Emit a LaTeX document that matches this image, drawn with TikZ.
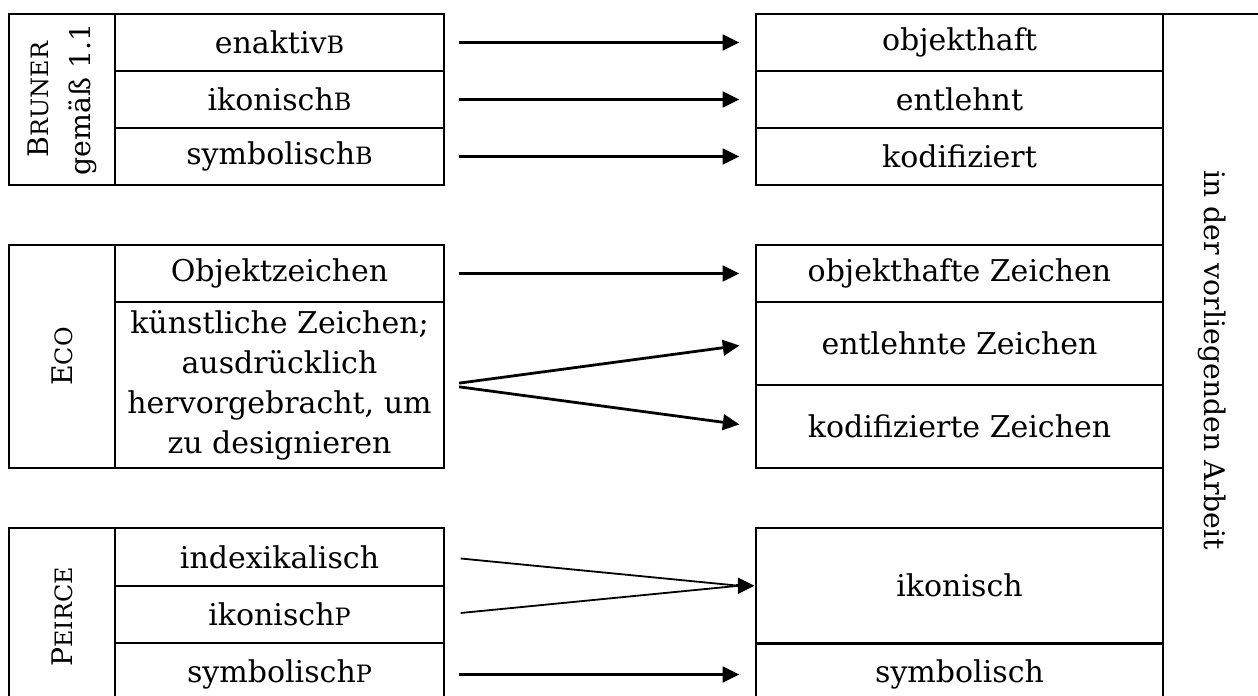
\documentclass[tikz,border=0pt]{standalone}
\usepackage{fontspec}
\setmainfont{DejaVu Serif}
\usetikzlibrary{arrows.meta,positioning}
\newcommand{\pxu}{0.36pt}
\newcommand{\kap}[1]{{\fontsize{8.6}{10}\selectfont\MakeUppercase{#1}}}
\tikzset{
  cell/.style 2 args={draw,line width=1pt,inner sep=0pt,align=center,
    minimum width=#1*\pxu,minimum height=#2*\pxu,font=\fontsize{10.8}{14.4}\selectfont},
  sidelabel/.style={font=\fontsize{10.2}{15}\selectfont},
  arrow/.style={-{Triangle[length=6pt,width=5.6pt]},line width=1pt,shorten <=5pt,shorten >=5.5pt},
  thinline/.style={line width=0.65pt,shorten <=5.5pt}
}

\begin{document}
\begin{tikzpicture}[x=0.36pt,y=-0.36pt]
  \useasboundingbox (0,0) rectangle (1258,696);
  \clip (0,0) rectangle (1258,696);

  % Bruner
  \node[cell={171}{106},sidelabel,rotate=90] (bruner) at (62,99.5) {B\kap{runer}\\gemäß 1.1};
  \node[cell={329}{57}] (enaktiv) at (279.5,42.5) {enaktiv\kap{b}};
  \node[cell={329}{57}] (ikonB) at (279.5,99.5) {ikonisch\kap{b}};
  \node[cell={329}{57}] (symbB) at (279.5,156.5) {symbolisch\kap{b}};
  \node[cell={407}{57}] (objekthaft) at (959.5,42.5) {objekthaft};
  \node[cell={407}{57}] (entlehnt) at (959.5,99.5) {entlehnt};
  \node[cell={407}{57}] (kodifiziert) at (959.5,156.5) {kodifiziert};

  % Eco
  \node[cell={223}{106},sidelabel,rotate=90] (eco) at (62,356.5) {E\kap{co}};
  \node[cell={329}{57}] (objz) at (279.5,273.5) {Objektzeichen};
  \node[cell={329}{166}] (kuenstl) at (279.5,385) {künstliche Zeichen;\\ausdrücklich\\hervorgebracht, um\\zu designieren};
  \node[cell={407}{57}] (objzR) at (959.5,273.5) {objekthafte Zeichen};
  \node[cell={407}{83}] (entlZ) at (959.5,343.5) {entlehnte Zeichen};
  \node[cell={407}{83}] (kodZ) at (959.5,426.5) {kodifizierte Zeichen};

  % Peirce
  \node[cell={178}{106},sidelabel,rotate=90] (peirce) at (62,617) {P\kap{eirce}};
  \node[cell={329}{58}] (index) at (279.5,557) {indexikalisch};
  \node[cell={329}{57}] (ikonP) at (279.5,614.5) {ikonisch\kap{p}};
  \node[cell={329}{63}] (symbP) at (279.5,674.5) {symbolisch\kap{p}};
  \node[cell={407}{115.5}] (ikonisch) at (959.5,585.75) {ikonisch};
  \node[cell={407}{63}] (symbolisch) at (959.5,674.5) {symbolisch};

  % right column
  \node[cell={692}{99},sidelabel,rotate=-90] (arbeit) at (1212.5,360) {in der vorliegenden Arbeit};

  \draw[arrow] (enaktiv) -- (objekthaft);
  \draw[arrow] (ikonB) -- (entlehnt);
  \draw[arrow] (symbB) -- (kodifiziert);
  \draw[arrow] (objz) -- (objzR);
  \draw[arrow] (kuenstl.east) -- (entlZ.west);
  \draw[arrow] (kuenstl.east) -- (kodZ.west);
  \coordinate (meet) at ([xshift=-15.7*\pxu]ikonisch.west);
  \draw[thinline] (index.east) -- (meet);
  \draw[thinline] (ikonP.east) -- (meet);
  \draw[arrow,shorten <=0pt,shorten >=0pt] ([xshift=-1pt]meet) -- (ikonisch.west);
  \draw[arrow] (symbP) -- (symbolisch);
\end{tikzpicture}
\end{document}
